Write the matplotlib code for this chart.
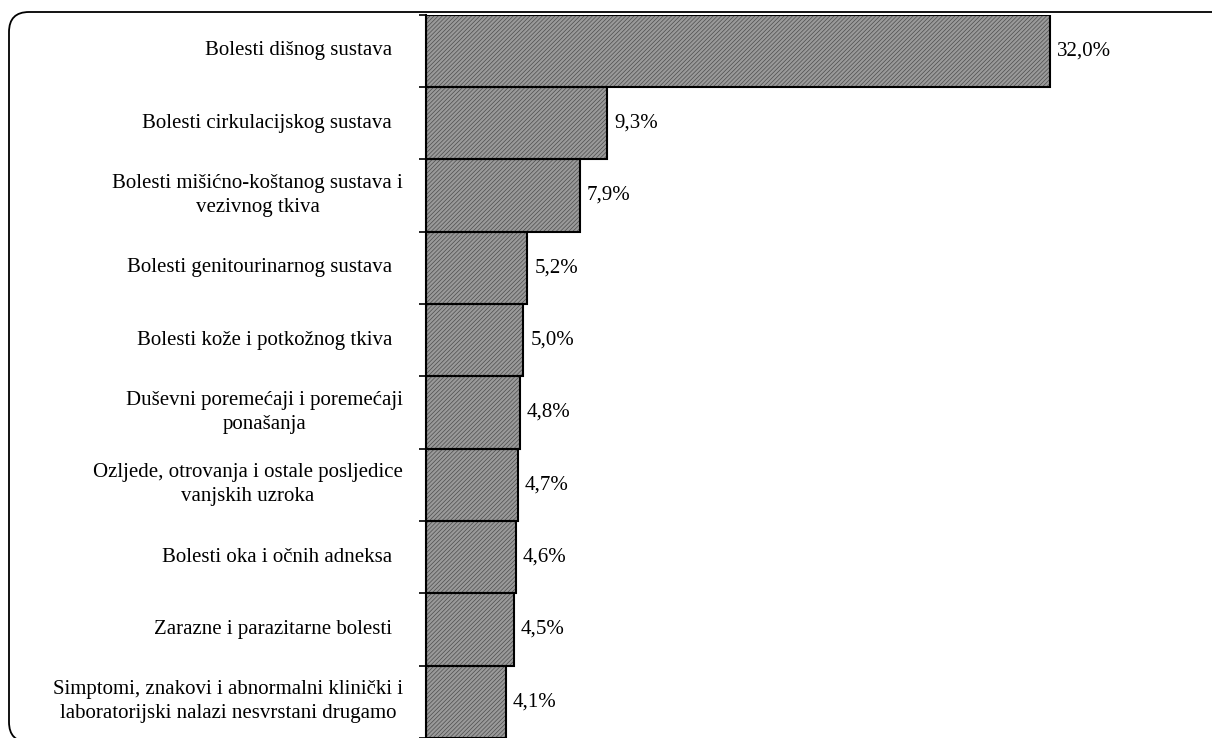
"""Horizontal bar chart — most common diagnoses (share in %)."""

import numpy as np
import matplotlib.pyplot as plt
from matplotlib.patches import FancyBboxPatch

plt.rcParams['font.family'] = ['Liberation Serif', 'DejaVu Serif']
plt.rcParams['hatch.linewidth'] = 0.5

categories = [
    "Bolesti dišnog sustava",
    "Bolesti cirkulacijskog sustava",
    "Bolesti mišićno-koštanog sustava i\nvezivnog tkiva",
    "Bolesti genitourinarnog sustava",
    "Bolesti kože i potkožnog tkiva",
    "Duševni poremećaji i poremećaji\nponašanja",
    "Ozljede, otrovanja i ostale posljedice\nvanjskih uzroka",
    "Bolesti oka i očnih adneksa",
    "Zarazne i parazitarne bolesti",
    "Simptomi, znakovi i abnormalni klinički i\nlaboratorijski nalazi nesvrstani drugamo",
]
values = [32.0, 9.3, 7.9, 5.2, 5.0, 4.8, 4.7, 4.6, 4.5, 4.1]
value_labels = ["32,0%", "9,3%", "7,9%", "5,2%", "5,0%",
                "4,8%", "4,7%", "4,6%", "4,5%", "4,1%"]

W, H = 1212, 738
fig = plt.figure(figsize=(W / 100, H / 100), dpi=100)

# background axes in pixel units for the rounded frame (cut off right/bottom)
bg = fig.add_axes([0, 0, 1, 1], zorder=0)
bg.set_xlim(0, W)
bg.set_ylim(0, H)
bg.axis('off')
bg.add_patch(FancyBboxPatch((9, -4), 1225, H - 12 + 4,
                            boxstyle="round,pad=0,rounding_size=20",
                            facecolor='none', edgecolor='black',
                            linewidth=1.3, clip_on=True))

ax = fig.add_axes([426 / W, 0.0, 682 / W, 1 - 14.7 / H], zorder=1)
ax.patch.set_visible(False)

y = np.arange(len(categories))
# hatched fill, then black outline on top
ax.barh(y, values, height=1.0, color='#9a9a9a', edgecolor='#4d4d4d',
        linewidth=0, hatch='////////', zorder=2)
ax.barh(y, values, height=1.0, fill=False, edgecolor='black',
        linewidth=1.5, zorder=3)

for yi, v, lab in zip(y, values, value_labels):
    ax.annotate(lab, xy=(v, yi), xytext=(7, 0), textcoords='offset pixels',
                ha='left', va='center', fontsize=15)

# category labels (wrapped ones sit a little closer to the axis)
for yi, cat in zip(y, categories):
    off = 23 if '\n' in cat else 34
    ax.annotate(cat, xy=(0, yi), xycoords=('axes fraction', 'data'),
                xytext=(-off, 0), textcoords='offset pixels',
                ha='right', va='center', multialignment='center',
                fontsize=15, linespacing=1.35)

ax.set_xlim(0, 35)
ax.set_ylim(len(categories) - 0.5, -0.5)

ax.set_yticks(np.arange(len(categories) + 1) - 0.5)
ax.set_yticklabels([])
ax.tick_params(axis='y', length=5, width=1.2, direction='out')
ax.set_xticks([])

for side in ['top', 'right', 'bottom']:
    ax.spines[side].set_visible(False)
ax.spines['left'].set_linewidth(1.5)

fig.savefig('out.png', dpi=100)
